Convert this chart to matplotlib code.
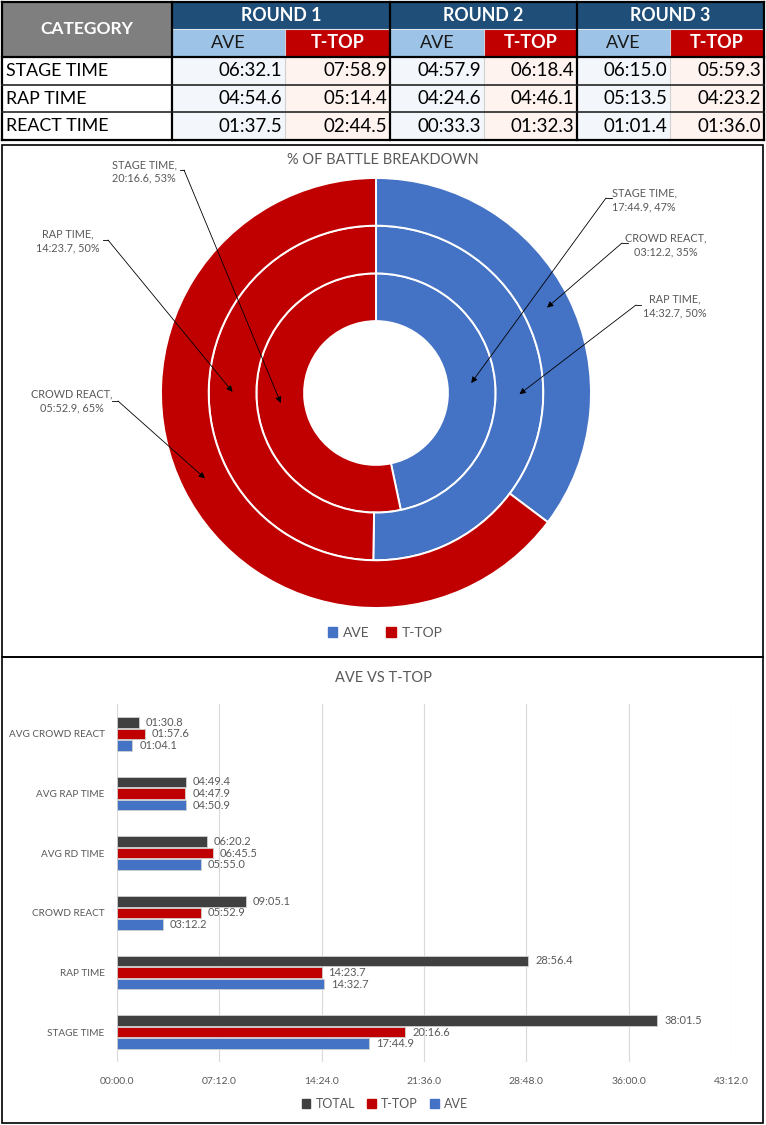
import matplotlib
matplotlib.use('Agg')
import matplotlib.pyplot as plt
from matplotlib.patches import Rectangle, Patch
import numpy as np

# ---------------- data ----------------
rounds = ['ROUND 1', 'ROUND 2', 'ROUND 3']
players = ['AVE', 'T-TOP']
table_categories = ['STAGE TIME', 'RAP TIME', 'REACT TIME']
r1_ave = ['06:32.1', '04:54.6', '01:37.5']
r1_ttop = ['07:58.9', '05:14.4', '02:44.5']
r2_ave = ['04:57.9', '04:24.6', '00:33.3']
r2_ttop = ['06:18.4', '04:46.1', '01:32.3']
r3_ave = ['06:15.0', '05:13.5', '01:01.4']
r3_ttop = ['05:59.3', '04:23.2', '01:36.0']

# donut rings, inner -> outer (seconds)
ring_names = ['STAGE TIME', 'RAP TIME', 'CROWD REACT']
ring_ave = [1064.9, 872.7, 192.2]
ring_ttop = [1216.6, 863.7, 352.9]

# bar chart (seconds), bottom -> top
bar_categories = ['STAGE TIME', 'RAP TIME', 'CROWD REACT',
                  'AVG RD TIME', 'AVG RAP TIME', 'AVG CROWD REACT']
bar_total = [2281.5, 1736.4, 545.1, 380.2, 289.4, 90.8]
bar_ttop = [1216.6, 863.7, 352.9, 405.5, 287.9, 117.6]
bar_ave = [1064.9, 872.7, 192.2, 355.0, 290.9, 64.1]
x_ticks = [0, 432, 864, 1296, 1728, 2160, 2592]

# ---------------- styling ----------------
W, H = 766, 1125
DPI = 100
BLUE = '#4472C4'
RED = '#C00000'
DARK = '#404040'
GRAY_TXT = '#595959'
FONT = ['Lato', 'DejaVu Sans']
plt.rcParams['font.family'] = FONT


def fmt(sec):
    t = int(round(sec * 10))
    m, r = divmod(t, 600)
    s, d = divmod(r, 10)
    return f"{m:02d}:{s:02d}.{d}"


fig = plt.figure(figsize=(W / DPI, H / DPI), dpi=DPI)
cv = fig.add_axes([0, 0, 1, 1])
cv.set_xlim(0, W)
cv.set_ylim(0, H)
cv.axis('off')


def Y(p):
    return H - p


# ---------------- table ----------------
col_x = [2, 172, 285, 390, 484, 577, 670, 764]
row_y = [2, 29, 57, 85, 112, 140]


def cell(x0, x1, y0, y1, fc):
    cv.add_patch(Rectangle((x0, Y(y1)), x1 - x0, y1 - y0, facecolor=fc,
                           edgecolor='none', zorder=1))


cell(col_x[0], col_x[1], row_y[0], row_y[2], '#7F7F7F')
cv.text((col_x[0] + col_x[1]) / 2, Y((row_y[0] + row_y[2]) / 2), 'CATEGORY',
        color='white', fontsize=12.5, fontweight='bold', ha='center', va='center', zorder=3)
round_vals = [(r1_ave, r1_ttop), (r2_ave, r2_ttop), (r3_ave, r3_ttop)]
for i, rnd in enumerate(rounds):
    xa, xm, xb = col_x[1 + 2 * i], col_x[2 + 2 * i], col_x[3 + 2 * i]
    cell(xa, xb, row_y[0], row_y[1], '#1F4E79')
    cv.text((xa + xb) / 2, Y((row_y[0] + row_y[1]) / 2), rnd, color='white',
            fontsize=12.8, fontweight='bold', ha='center', va='center', zorder=3)
    cell(xa, xm, row_y[1], row_y[2], '#9DC3E6')
    cell(xm, xb, row_y[1], row_y[2], RED)
    cv.text((xa + xm) / 2, Y((row_y[1] + row_y[2]) / 2), players[0], color='#1a1a1a',
            fontsize=13, ha='center', va='center', zorder=3)
    cv.text((xm + xb) / 2, Y((row_y[1] + row_y[2]) / 2), players[1], color='white',
            fontsize=13, fontweight='bold', ha='center', va='center', zorder=3)
    ave_vals, ttop_vals = round_vals[i]
    for j in range(3):
        y0, y1 = row_y[2 + j], row_y[3 + j]
        cell(xa, xm, y0, y1, '#F3F7FC')
        cell(xm, xb, y0, y1, '#FFF3EF')
        cv.text(xm - 3, Y((y0 + y1) / 2), ave_vals[j], color='black', fontsize=13.5,
                ha='right', va='center', zorder=3)
        cv.text(xb - 3, Y((y0 + y1) / 2), ttop_vals[j], color='black', fontsize=13.5,
                ha='right', va='center', zorder=3)
    # thin inner divider
    cv.plot([xm, xm], [Y(row_y[1]), Y(row_y[5])], color='#d0d0d0', lw=0.8, zorder=2)
    cv.plot([xa, xb], [Y(row_y[1]), Y(row_y[1])], color='#dfe6ee', lw=0.8, zorder=2)
for j, cat in enumerate(table_categories):
    y0, y1 = row_y[2 + j], row_y[3 + j]
    cell(col_x[0], col_x[1], y0, y1, 'white')
    cv.text(col_x[0] + 4, Y((y0 + y1) / 2), cat, color='black', fontsize=12.8,
            ha='left', va='center', zorder=3)
# thick lines
for x in [col_x[0], col_x[1], col_x[3], col_x[5], col_x[7]]:
    cv.plot([x, x], [Y(row_y[0]), Y(row_y[5])], color='black', lw=1.6, zorder=4)
for yy in [row_y[0], row_y[2], row_y[5]]:
    cv.plot([col_x[0], col_x[7]], [Y(yy), Y(yy)], color='black', lw=1.6, zorder=4)
for yy in [row_y[3], row_y[4]]:
    cv.plot([col_x[0], col_x[7]], [Y(yy), Y(yy)], color='#262626', lw=1.2, zorder=4)

# ---------------- panel borders ----------------
for (x0, y0, x1, y1) in [(2, 145, 763, 657), (2, 657, 763, 1123)]:
    cv.add_patch(Rectangle((x0, Y(y1)), x1 - x0, y1 - y0, facecolor='none',
                           edgecolor='black', lw=1.2, zorder=5))

# ---------------- donut ----------------
cx, cy = 376, 393
r_out = 215
ring_w = 47.7
r_in = r_out - 3 * ring_w
cv.text(383, Y(160), '% OF BATTLE BREAKDOWN', color=GRAY_TXT, fontsize=10.5,
        ha='center', va='center')
tips = {}
for k in range(3):
    vals = [ring_ave[k], ring_ttop[k]]
    rr = r_in + (k + 1) * ring_w
    cv.pie(vals, radius=rr, center=(cx, Y(cy)), startangle=90, counterclock=False,
           colors=[BLUE, RED], frame=True,
           wedgeprops=dict(width=ring_w, edgecolor='white', linewidth=1.4))
    tot = sum(vals)
    cum = 0
    rm = rr - ring_w / 2
    for p, v in zip(players, vals):
        frac = v / tot
        ang = np.deg2rad(90 - 360 * (cum + frac / 2))
        tips[(k, p)] = (cx + rm * np.cos(ang), Y(cy) + rm * np.sin(ang), frac)
        cum += frac
cv.set_xlim(0, W)
cv.set_ylim(0, H)
cv.set_aspect('auto')
cv.axis('off')

# label layout: (ring, player) -> text centre (px), stub start, stub end
label_layout = {
    (0, 'T-TOP'): ((144, 171.5), (180, 170), (184, 170)),
    (1, 'T-TOP'): ((68, 241), (103, 240), (108, 240)),
    (2, 'T-TOP'): ((72, 401), (112, 401), (118, 401)),
    (0, 'AVE'): ((644, 200), (612, 198), (606, 198)),
    (2, 'AVE'): ((666, 245), (628, 243), (622, 243)),
    (1, 'AVE'): ((675, 306), (641, 305), (636, 305)),
}
for k in range(3):
    for p, vals in zip(players, [ring_ave, ring_ttop]):
        tx, ty, frac = tips[(k, p)]
        (lx, ly), (sx0, sy0), (sx1, sy1) = label_layout[(k, p)]
        txt = f"{ring_names[k]},\n{fmt(vals[k])}, {frac * 100:.0f}%"
        cv.text(lx, Y(ly), txt, color=GRAY_TXT, fontsize=7.8, ha='center',
                va='center', linespacing=1.25, zorder=6)
        cv.plot([sx0, sx1], [Y(sy0), Y(sy1)], color='black', lw=0.6, zorder=6)
        cv.annotate('', xy=(tx, ty), xytext=(sx1, Y(sy1)),
                    arrowprops=dict(arrowstyle='-|>', color='black', lw=0.6,
                                    shrinkA=0, shrinkB=0, mutation_scale=9),
                    zorder=6)

fig.legend(handles=[Patch(color=BLUE, label='AVE'), Patch(color=RED, label='T-TOP')],
           loc='center', bbox_to_anchor=(385 / W, 1 - 633 / H), ncol=2,
           frameon=False, fontsize=10, handlelength=0.7, handleheight=0.7,
           handletextpad=0.4, columnspacing=1.2, labelcolor=GRAY_TXT)

# ---------------- bar chart ----------------
ax = fig.add_axes([117 / W, (H - 1062) / H, 614 / W, 358 / H])
ax.patch.set_alpha(0)
ypos = np.arange(len(bar_categories))
bh = 0.175
off = 0.193
series = [('TOTAL', bar_total, DARK, off), ('T-TOP', bar_ttop, RED, 0.0),
          ('AVE', bar_ave, BLUE, -off)]
for name, vals, col, o in series:
    ax.barh(ypos + o, vals, height=bh, color=col, edgecolor='#d0d0d0',
            linewidth=0.6, label=name, zorder=3)
    for yy, v in zip(ypos + o, vals):
        ax.annotate(fmt(v), (v, yy), xytext=(5, 0), textcoords='offset points',
                    ha='left', va='center', fontsize=8, color=GRAY_TXT)
ax.set_xlim(0, 2592)
ax.set_ylim(-0.5, len(bar_categories) - 0.5)
ax.set_xticks(x_ticks)
ax.set_xticklabels([fmt(t) for t in x_ticks], color=GRAY_TXT, fontsize=7.5)
ax.set_yticks(ypos)
ax.set_yticklabels(bar_categories, color=GRAY_TXT, fontsize=7.2)
ax.tick_params(axis='both', length=0)
ax.tick_params(axis='x', pad=11)
ax.tick_params(axis='y', pad=9)
ax.grid(axis='x', color='#d9d9d9', lw=0.8, zorder=0)
for s in ax.spines.values():
    s.set_visible(False)
cv.text(383, Y(678), 'AVE VS T-TOP', color=GRAY_TXT, fontsize=10.5,
        ha='center', va='center')
fig.legend(handles=[Patch(color=DARK, label='TOTAL'), Patch(color=RED, label='T-TOP'),
                    Patch(color=BLUE, label='AVE')],
           loc='center', bbox_to_anchor=(385 / W, 1 - 1104 / H), ncol=3,
           frameon=False, fontsize=9, handlelength=0.7, handleheight=0.7,
           handletextpad=0.4, columnspacing=1.0, labelcolor=GRAY_TXT)

fig.savefig('out.png', dpi=DPI)
